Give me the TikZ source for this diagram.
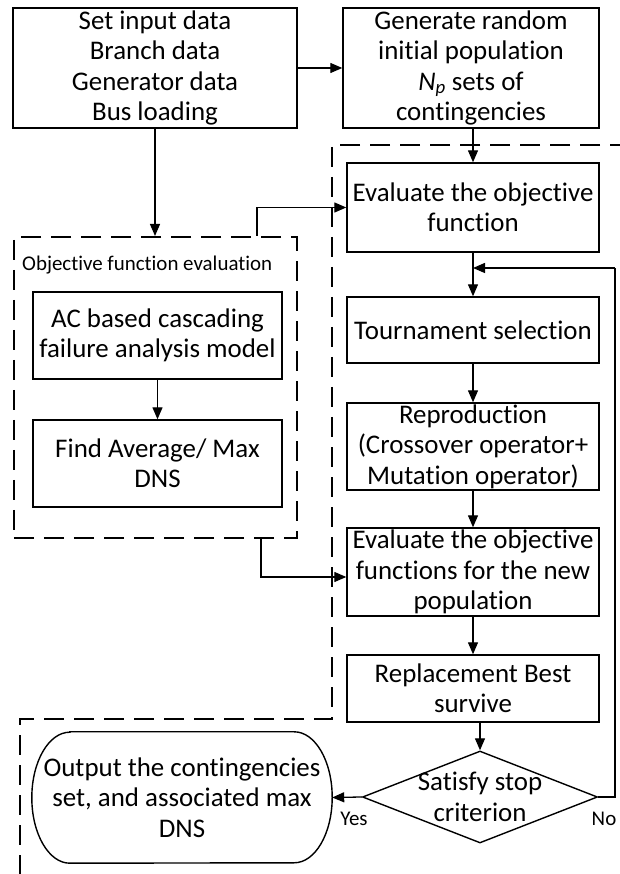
\documentclass[tikz,border=0pt]{standalone}
\usepackage{fontspec}
\setmainfont{Carlito}[Ligatures=NoCommon]
\usetikzlibrary{arrows.meta,shapes.geometric,calc}
\begin{document}
\begin{tikzpicture}[x=1bp,y=1bp,
  box/.style={draw,line width=1.4bp,inner sep=0pt,align=center,
    font=\fontsize{27}{30.5}\selectfont},
  txt/.style={inner sep=0pt,align=center,font=\fontsize{27}{30.5}\selectfont},
  small/.style={inner sep=0pt,font=\fontsize{21}{25}\selectfont},
  grpline/.style={line width=2bp,dash pattern=on 20bp off 10bp},
  arr/.style={line width=1.3bp,-{Triangle[length=12bp,width=10bp]}},
  ln/.style={line width=1.3bp}]
\clip (0,0) rectangle (620,874);
\fill[white] (0,0) rectangle (620,874);
% top boxes
\node[box,minimum width=284bp,minimum height=120bp] (box1) at (155,806)
  {Set input data\\Branch data\\Generator data\\Bus loading};
\node[box,minimum width=256bp,minimum height=120bp] (box2) at (471,806)
  {Generate random\\initial population\\\textit{N}\textsubscript{\textit{p}} sets of\\contingencies};
% right column
\node[box,minimum width=252bp,minimum height=89bp] (eval1) at (473,666.5)
  {Evaluate the objective\\function};
\node[box,minimum width=252bp,minimum height=66bp] (tour) at (473,544)
  {Tournament selection};
\node[box,minimum width=252bp,minimum height=87bp] (repro) at (473,427.5)
  {Reproduction\\(Crossover operator+\\Mutation operator)};
\node[box,minimum width=252bp,minimum height=88bp] (eval2) at (473,302)
  {Evaluate the objective\\functions for the new\\population};
\node[box,minimum width=252bp,minimum height=67bp] (repl) at (473,185.5)
  {Replacement Best\\survive};
\node[diamond,draw,line width=1.4bp,minimum width=235bp,minimum height=92bp,inner sep=0pt,
  label={[txt]center:Satisfy stop\\criterion}] (dia) at (480,77) {};
% output terminal
\node[txt,minimum width=300bp,minimum height=131bp] (out) at (182,76.5)
  {Output the contingencies\\set, and associated max\\DNS};
\draw[line width=1.4bp] ([xshift=38bp]out.north west) -- ([xshift=-38bp]out.north east)
  arc[start angle=90,end angle=-90,x radius=38,y radius=65.5]
  -- ([xshift=38bp]out.south west)
  arc[start angle=270,end angle=90,x radius=38,y radius=65.5] -- cycle;
% left group
\node[draw,grpline,minimum width=283bp,minimum height=301bp,inner sep=0pt] (grp) at (155.5,486.5) {};
\node[small,anchor=west] (grplabel) at (22,609) {Objective function evaluation};
\node[box,minimum width=249bp,minimum height=87bp] (ac) at (157.5,538.5)
  {AC based cascading\\failure analysis model};
\node[box,minimum width=249bp,minimum height=87bp] (find) at (157.5,410.5)
  {Find Average/ Max\\DNS};
% right dashed boundary
\coordinate (d1) at (630,729);
\coordinate (d2) at (332,729);
\coordinate (d3) at (332,155);
\coordinate (d4) at (20,155);
\coordinate (d5) at (20,-10);
\draw[grpline] (d1) -- (d2) -- (d3) -- (d4) -- (d5);
% connectors
\draw[arr] (box1.east) -- (box2.west);
\draw[arr] (box1.south) -- (box1.south |- grp.north);
\coordinate (g1) at ([xshift=-41bp]grp.north east);
\draw[arr] (g1) |- (eval1.west);
\draw[arr] (eval1.north |- box2.south) -- (eval1.north);
\draw[arr] (eval1.south) -- (tour.north);
\draw[arr] (tour.south) -- (repro.north);
\draw[arr] (repro.south) -- (eval2.north);
\draw[arr] (eval2.south) -- (repl.north);
\draw[arr] (dia.north |- repl.south) -- (dia.north);
\draw[arr] (ac.south) -- (find.north);
\coordinate (g2) at ([xshift=-37bp]grp.south east);
\draw[arr] (g2) |- ([yshift=-5bp]eval2.west);
\draw[arr] (dia.west) -- (out.east);
\coordinate (fb1) at (615,77);
\coordinate (fb2) at (615,606);
\coordinate (fb3) at (473,606);
\draw[ln] (dia.east) -- (fb1) -- (fb2);
\draw[arr] (fb2) -- (fb3);
\node[small] (yes) at (354,55) {Yes};
\node[small] (no) at (604,55) {No};
\end{tikzpicture}
\end{document}
